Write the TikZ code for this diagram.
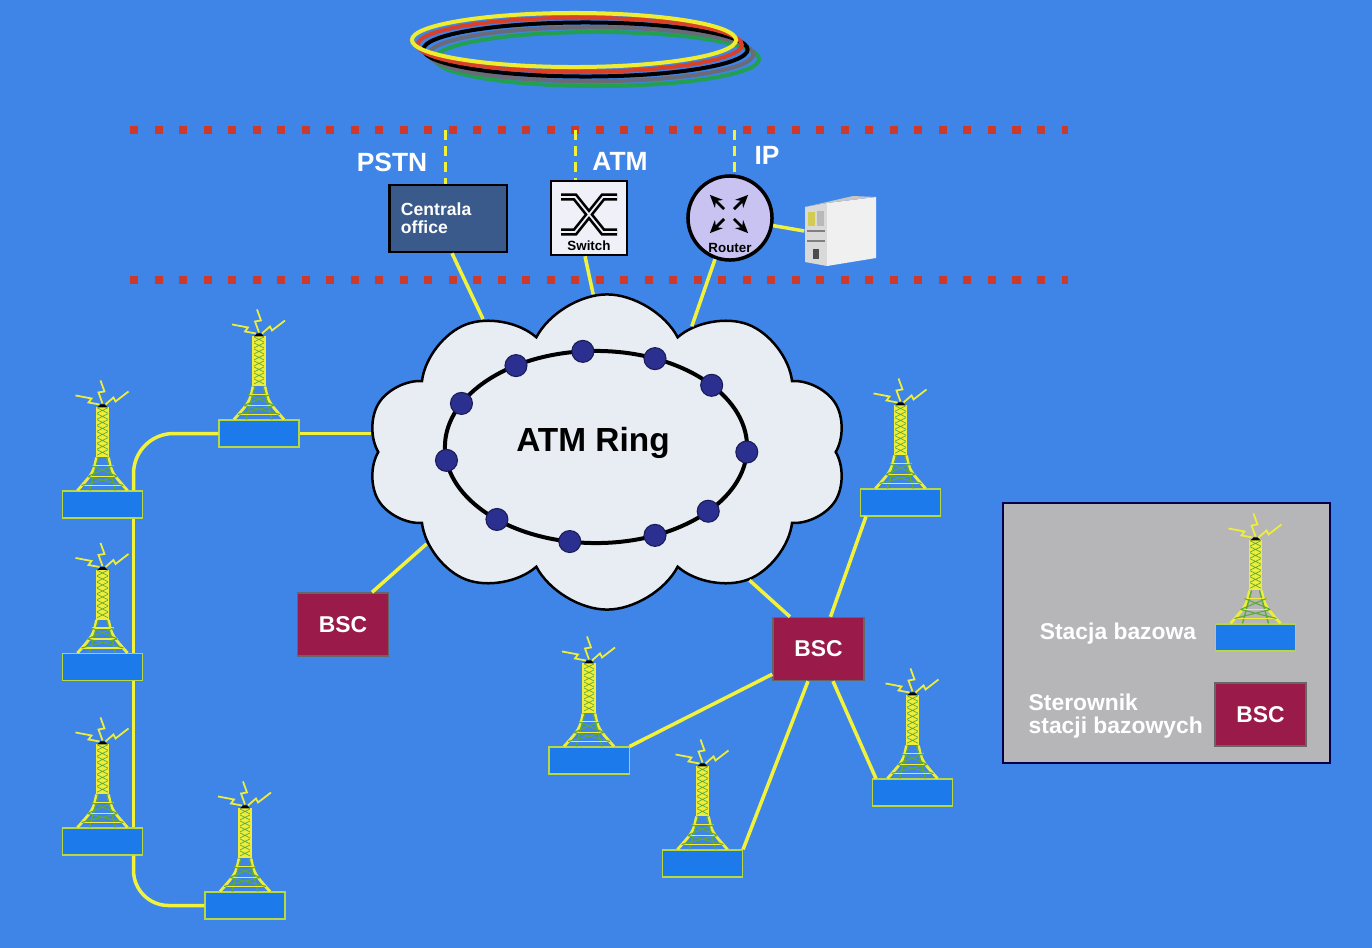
\documentclass[tikz,border=0pt]{standalone}
\usepackage{fontspec}
\setmainfont{Liberation Sans}
\usetikzlibrary{shapes.symbols,arrows.meta}

\definecolor{bgblue}{HTML}{3F85E7}
\definecolor{btsblue}{HTML}{1C7AEA}
\definecolor{btsedge}{HTML}{B8D840}
\definecolor{towy}{HTML}{EEEE3A}
\definecolor{towg}{HTML}{5EA83C}
\definecolor{linkyellow}{HTML}{F2F23A}
\definecolor{dotred}{HTML}{CC3A2C}
\definecolor{officeblue}{HTML}{3A5A8C}
\definecolor{switchwhite}{HTML}{F0F0F8}
\definecolor{routerlilac}{HTML}{C9C3F2}
\definecolor{cloudwhite}{HTML}{E8EDF3}
\definecolor{ringdot}{HTML}{2B2F8F}
\definecolor{bscred}{HTML}{9A1A4A}
\definecolor{legendgray}{HTML}{B6B6B8}
\definecolor{ringyellow}{HTML}{F0EC30}
\definecolor{ringred}{HTML}{D8402A}
\definecolor{ringgray}{HTML}{6A6A78}
\definecolor{ringgreen}{HTML}{20A050}

\newcommand\pfont[1]{\fontsize{#1}{#1}\selectfont\bfseries}

% lattice mast standing on (0,0), drawn upwards
\tikzset{
  tower/.pic={
    \fill[towy] (-6,-33) rectangle (6,-83);
    \foreach \k in {-83,-77,...,-39}
      \draw[towg,line width=0.2pt] (-6,\k) -- (6,\k+6) (6,\k) -- (-6,\k+6);
    \draw[towy,line width=0.5pt] (-6,-33) -- (-6,-83) (6,-33) -- (6,-83);
    \draw[towy,line width=0.8pt] (-6,-33) .. controls (-9,-18) .. (-25,0)
      (6,-33) .. controls (9,-18) .. (25,0);
    \draw[towg,line width=0.4pt] (-4,-33) -- (-13,0) (4,-33) -- (13,0);
    \draw[towy,line width=0.5pt] (-11,-25) -- (11,-25) (-15,-14) -- (15,-14) (-21,-5) -- (21,-5);
    \draw[towg,line width=0.3pt] (-11,-25) -- (15,-14) (11,-25) -- (-15,-14)
      (-15,-14) -- (21,-5) (15,-14) -- (-21,-5);
    \fill[black] (-5,-83) -- (5,-83) -- (2,-86) -- (-2,-86) -- cycle;
    \draw[towy,line width=0.5pt] (-3,-86) -- (-14,-88) -- (-11,-92) -- (-27,-95)
      (3,-86) -- (11,-93) -- (13,-89) -- (26,-99)
      (0,-87) -- (-4,-98) -- (2,-99) -- (-2,-110);
  }
}

\begin{document}
\begin{tikzpicture}[x=0.01cm,y=-0.01cm,
  link/.style={draw=linkyellow,line width=0.035cm},
  updash/.style={draw=linkyellow,line width=0.03cm,dash pattern=on 0.1cm off 0.06cm},
  redrow/.style={draw=dotred,line width=0.08cm,dash pattern=on 0.08cm off 0.165cm},
  bts/.style={draw=btsedge,fill=btsblue,line width=0.3pt,minimum width=0.8cm,minimum height=0.27cm,inner sep=0},
  bsc/.style={draw=black!60,fill=bscred,line width=0.4pt,minimum width=0.91cm,minimum height=0.63cm,inner sep=0,text=white,font=\pfont{6.5}},
  net/.style={text=white,font=\pfont{7.5}},
  ringnode/.style={fill=ringdot,draw=ringdot!60!black,line width=0.3pt}]

\useasboundingbox (0,0) rectangle (1372,948);
\fill[bgblue] (0,0) rectangle (1372,948);

% rings on top
\foreach \c [count=\i from 0] in {ringgreen,ringgray,black,ringred,ringyellow}
  \draw[\c,line width=0.04cm] ({597-5.75*\i},{59-4.75*\i}) ellipse [x radius=1.62cm,y radius=0.27cm];

% dotted borders
\coordinate (toprow) at (130,130);
\coordinate (botrow) at (130,280);
\draw[redrow] (toprow) -- (1068,130);
\draw[redrow] (botrow) -- (1068,280);

% PSTN / ATM / IP
\node[net] (pstnlbl) at (392,162) {PSTN};
\node[net] (atmlbl) at (620,161) {ATM};
\node[net] (iplbl) at (767,155) {IP};

\node[draw=black,line width=0.025cm,fill=officeblue,minimum width=1.14cm,minimum height=0.67cm,
  text width=0.94cm,align=left,text=white,font=\pfont{5}] (pstn) at (448,218.5) {Centrala\\office};

\node[draw=black,line width=0.025cm,fill=switchwhite,minimum width=0.76cm,minimum height=0.74cm,
  label={[anchor=south,inner sep=1.5pt,font=\pfont{3.8}]south:Switch}] (sw) at (589,218) {};
\draw[double=switchwhite,double distance=0.5pt,line width=0.75pt]
  (561,197) -- (575,197) -- (603,232) -- (617,232)
  (561,232) -- (575,232) -- (603,197) -- (617,197);

\node[circle,draw=black,line width=0.035cm,fill=routerlilac,minimum size=0.84cm,inner sep=0,
  label={[anchor=south,inner sep=2.5pt,font=\pfont{3.8}]south:Router}] (rtr) at (730,218) {};
\foreach \a in {45,135,225,315}
  \draw[-{Stealth[length=3.6pt,width=3.2pt]},line width=0.8pt] (729,214) ++(\a:0.07cm) -- ++(\a:0.2cm);

% server
\node[minimum width=0.72cm,minimum height=0.71cm,inner sep=0] (srv) at (841,231) {};
\fill[gray!30] (805,207) -- (827,203) -- (827,266) -- (805,262) -- cycle;
\fill[gray!12] (827,203) -- (876,197) -- (876,258) -- (827,266) -- cycle;
\fill[gray!45] (805,207) -- (853,196) -- (876,197) -- (827,203) -- cycle;
\fill[yellow!60!gray] (808,212) rectangle (815,226);
\fill[gray!55] (817,211) rectangle (824,226);
\draw[gray,line width=0.3pt] (807,231) -- (825,231) (807,241) -- (825,241);
\fill[black!70] (813,249) rectangle (819,259);

\draw[updash] ([xshift=-0.03cm]pstn.north |- toprow) -- ([xshift=-0.03cm]pstn.north);
\draw[updash] ([xshift=-0.13cm]sw.north |- toprow) -- ([xshift=-0.13cm]sw.north);
\draw[updash] ([xshift=0.04cm]rtr.north |- toprow) -- ([xshift=0.04cm]rtr.north);
\draw[link] (rtr.-10) -- (srv.west);

% cloud with the ring
\node[cloud,cloud puffs=10,cloud puff arc=125,aspect=1.5,draw=black,line width=0.025cm,fill=cloudwhite,
  minimum width=4.8cm,minimum height=3.15cm,inner sep=0] (cloud) at (607,452) {};
\draw[line width=0.04cm] (596,447) ellipse [x radius=1.51cm,y radius=0.96cm];
\foreach \t in {153,122,95,67,40,-3,-42,-67,-100,-131,-172}
  \filldraw[ringnode] ({596+151*cos(\t)},{447-96*sin(\t)}) circle (0.11cm);
\node[font=\pfont{9.5}] (ringlbl) at (593,443) {ATM Ring};

\draw[link] ([xshift=0.04cm]pstn.south) -- (cloud.133);
\draw[link] ([xshift=-0.04cm]sw.south) -- (cloud.95);
\draw[link] (rtr.-110) -- (cloud.56);

% base stations
\node[bts] (b1) at (259,433.5) {};
\node[bts] (b2) at (102.5,504.5) {};
\node[bts] (b3) at (102.5,667) {};
\node[bts] (b4) at (102.5,841.5) {};
\node[bts] (b5) at (245,905.5) {};
\node[bts] (b6) at (900.5,502.5) {};
\node[bts] (b7) at (589,760.5) {};
\node[bts] (b8) at (702.5,863.5) {};
\node[bts] (b9) at (912.5,792.5) {};
\foreach \b in {b1,b2,b3,b4,b5,b6,b7,b8,b9}
  \pic at (\b.north) {tower};

\node[bsc] (bscl) at (343,624.5) {BSC};
\node[bsc] (bscr) at (818.5,649) {BSC};

\draw[link] (b1.east) -- (b1.east -| cloud.176);
\draw[link,rounded corners=0.4cm] (b1.west) -| ([xshift=-0.095cm]b2.north east);
\draw[link] ([xshift=-0.095cm]b2.south east) -- ([xshift=-0.095cm]b3.north east);
\draw[link] ([xshift=-0.095cm]b3.south east) -- ([xshift=-0.095cm]b4.north east);
\draw[link,rounded corners=0.35cm] ([xshift=-0.095cm]b4.south east) |- (b5.west);

\draw[link] ([xshift=0.29cm]bscl.north) -- (cloud.207);
\draw[link] ([xshift=-0.285cm]bscr.north) -- (cloud.318);
\draw[link] ([xshift=0.12cm]bscr.north) -- ([xshift=0.06cm]b6.south west);
\draw[link] ([yshift=0.07cm]bscr.south west) -- (b7.north east);
\draw[link] ([xshift=-0.105cm]bscr.south) -- (b8.north east);
\draw[link] ([xshift=0.145cm]bscr.south) -- ([xshift=0.04cm]b9.north west);

% legend
\node[draw=black!70!blue,fill=legendgray,line width=0.4pt,minimum width=3.27cm,minimum height=2.6cm] (legend) at (1166.5,633) {};
\node[bts] (lbts) at (1255.5,637.5) {};
\pic at (lbts.north) {tower};
\node[bsc] (lbsc) at (1260.5,714.5) {BSC};
\node[text=white,font=\pfont{6.5}] (ltxt) at (1118,634) {Stacja bazowa};
\node[text=white,font=\pfont{6.5},align=left,anchor=west,inner sep=0] (lbtxt) at (1028,716) {Sterownik\\stacji bazowych};

\end{tikzpicture}
\end{document}
